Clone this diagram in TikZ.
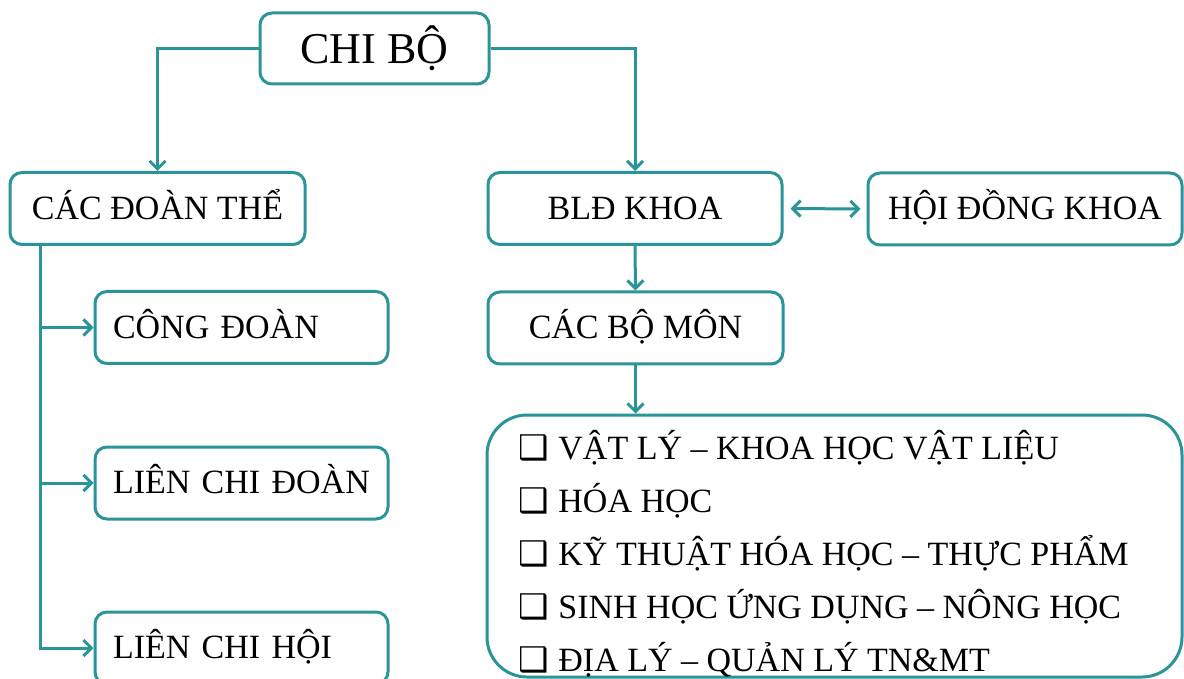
\documentclass[tikz,border=0pt]{standalone}
\usepackage{fontspec}
\setmainfont{Liberation Serif}
\newfontfamily\kyhieu{DejaVu Sans}
\usepackage{xcolor}
\usetikzlibrary{arrows.meta}

\definecolor{xanhla}{RGB}{42,148,152}
\newcommand{\oVuong}{\makebox[20pt][l]{\kyhieu\fontsize{17}{17}\selectfont ❑}}

\begin{document}
\begin{tikzpicture}[x=0.5pt,y=-0.5pt]
\tikzset{khung/.style={draw=xanhla,line width=1.5pt,rounded corners=6pt,fill=white,
  font=\fontsize{17}{20}\selectfont,text height=15pt,text depth=4.2pt,minimum height=36pt}}
\tikzset{khungtrai/.style={khung,text width=128.5pt,align=left,inner xsep=9pt}}
\tikzset{muc/.style={font=\fontsize{17}{20}\selectfont,inner sep=0pt,anchor=base west}}
\tikzset{noi/.style={draw=xanhla,line width=1.5pt,-{Straight Barb[length=4pt,width=8pt]}}}

\path[use as bounding box,fill=white] (0,0) rectangle (1184,679);
\clip (0,0) rectangle (1184,679);

% cap tren
\node[khung,minimum width=114.5pt,minimum height=35.5pt,font=\fontsize{22}{26}\selectfont,text height=19pt,text depth=4.4pt] (chibo) at (374.5,48.5) {CHI BỘ};

% nhanh trai
\node[khung,minimum width=147.5pt] (doanthe) at (157.5,208.5) {CÁC ĐOÀN THỂ};
\node[khungtrai] (congdoan) at (241.5,327.5) {CÔNG ĐOÀN};
\node[khungtrai] (lcdoan) at (241.5,483) {LIÊN CHI ĐOÀN};
\node[khungtrai] (lchoi) at (241.5,648) {LIÊN CHI HỘI};

% nhanh phai
\node[khung,minimum width=147pt] (bld) at (635,208.5) {BLĐ KHOA};
\node[khung,minimum width=157pt] (hoidong) at (1025,209) {HỘI ĐỒNG KHOA};
\node[khung,minimum width=147.5pt] (bomon) at (635.5,328) {CÁC BỘ MÔN};
\node[khung,rounded corners=20pt,minimum width=347.5pt,minimum height=131pt] (khungbm) at (834.5,546) {};

\node[muc] (mon1) at (518,459) {\oVuong VẬT LÝ – KHOA HỌC VẬT LIỆU};
\node[muc] (mon2) at (518,512) {\oVuong HÓA HỌC};
\node[muc] (mon3) at (518,565) {\oVuong KỸ THUẬT HÓA HỌC – THỰC PHẨM};
\node[muc] (mon4) at (518,618) {\oVuong SINH HỌC ỨNG DỤNG – NÔNG HỌC};
\node[muc] (mon5) at (518,671) {\oVuong ĐỊA LÝ – QUẢN LÝ TN\&MT};

% cac duong noi
\draw[noi] (chibo.west) -| (doanthe.north);
\draw[noi] (chibo.east) -| (bld.north);
\draw[noi,{Straight Barb[length=4pt,width=8pt]}-{Straight Barb[length=4pt,width=8pt]},shorten <=3.5pt,shorten >=3pt] (bld.east) -- (hoidong.west);
\draw[noi] (bld.south) -- (bomon.north);
\draw[noi] (bomon.south) -- (bomon.south |- khungbm.north);

\coordinate (truc) at ([xshift=16pt]doanthe.south west);
\draw[noi] (truc) |- (congdoan.west);
\draw[noi] (truc) |- (lcdoan.west);
\draw[noi] (truc) |- (lchoi.west);

\end{tikzpicture}
\end{document}
